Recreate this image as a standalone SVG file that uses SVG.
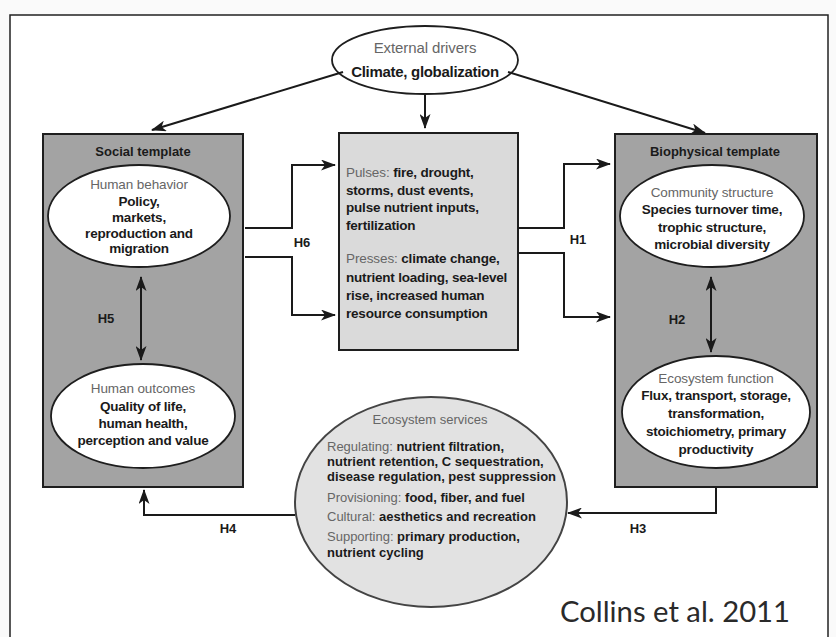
<svg xmlns="http://www.w3.org/2000/svg" width="836" height="637" viewBox="0 0 836 637">
<defs>
<marker id="ah" markerUnits="userSpaceOnUse" markerWidth="15" markerHeight="11" refX="14" refY="5.5" orient="auto-start-reverse">
<path d="M0,0 L15,5.5 L0,11 L4,5.5 z" fill="#1a1a1a"/>
</marker>
<style>
.t{font-family:"Liberation Sans",Arial,sans-serif;font-size:13.5px;letter-spacing:-0.2px;font-weight:bold;fill:#1a1a1a;}
.g{font-family:"Liberation Sans",Arial,sans-serif;font-size:13.5px;letter-spacing:-0.1px;font-weight:normal;fill:#666666;}
.s{font-size:13px;letter-spacing:0;}
.tpl{fill:#a3a3a3;stroke:#1e1e1e;stroke-width:2;}
.ell{fill:#ffffff;stroke:#1e1e1e;stroke-width:1.8;}
.c{stroke:#1a1a1a;stroke-width:2;fill:none;marker-end:url(#ah);}
.lab{font-family:"Liberation Sans",Arial,sans-serif;font-size:13px;font-weight:bold;fill:#1a1a1a;text-anchor:middle;}
</style>
</defs>
<rect x="0" y="0" width="836" height="637" fill="#fafafa"/>
<rect x="10" y="15" width="818" height="640" fill="#ffffff" stroke="#222" stroke-width="1.5"/>

<g id="external-drivers">
<ellipse cx="425" cy="60" rx="93" ry="34" class="ell" stroke-width="2.2"/>
<text x="425" y="53" class="g" style="font-size:15px" text-anchor="middle">External drivers</text>
<text x="425" y="77" class="t" style="font-size:15px;letter-spacing:-0.3px" text-anchor="middle">Climate, globalization</text>
</g>

<g id="social-template">
<rect x="43" y="134" width="200" height="353" class="tpl"/>
<text x="143" y="156" class="t s" text-anchor="middle">Social template</text>
</g>
<g id="human-behavior">
<ellipse cx="139" cy="216" rx="91" ry="51" class="ell"/>
<text x="139" y="189" class="g" text-anchor="middle">Human behavior</text>
<text class="t" text-anchor="middle"><tspan x="139" y="206">Policy,</tspan><tspan x="139" y="222">markets,</tspan><tspan x="139" y="238">reproduction and</tspan><tspan x="139" y="253">migration</tspan></text>
</g>
<g id="human-outcomes">
<ellipse cx="143" cy="416" rx="92" ry="52" class="ell"/>
<text x="143" y="393" class="g" text-anchor="middle">Human outcomes</text>
<text class="t" text-anchor="middle"><tspan x="143" y="411">Quality of life,</tspan><tspan x="143" y="428">human health,</tspan><tspan x="143" y="445">perception and value</tspan></text>
</g>

<g id="pulses-presses">
<rect x="339" y="133" width="179" height="217" fill="#dadada" stroke="#1e1e1e" stroke-width="2"/>
<text class="t"><tspan x="346" y="177"><tspan class="g">Pulses:</tspan> fire, drought,</tspan><tspan x="346" y="195">storms, dust events,</tspan><tspan x="346" y="212">pulse nutrient inputs,</tspan><tspan x="346" y="230">fertilization</tspan></text>
<text class="t"><tspan x="346" y="263"><tspan class="g">Presses:</tspan> climate change,</tspan><tspan x="346" y="282">nutrient loading, sea-level</tspan><tspan x="346" y="300">rise, increased human</tspan><tspan x="346" y="318">resource consumption</tspan></text>
</g>

<g id="biophysical-template">
<rect x="615" y="134" width="202" height="353" class="tpl"/>
<text x="715" y="156" class="t s" text-anchor="middle">Biophysical template</text>
</g>
<g id="community-structure">
<ellipse cx="712" cy="216" rx="92" ry="51" class="ell"/>
<text x="712" y="197" class="g" text-anchor="middle">Community structure</text>
<text class="t" text-anchor="middle"><tspan x="712" y="214">Species turnover time,</tspan><tspan x="712" y="232">trophic structure,</tspan><tspan x="712" y="249">microbial diversity</tspan></text>
</g>
<g id="ecosystem-function">
<ellipse cx="716" cy="412" rx="94" ry="56" class="ell"/>
<text x="716" y="383" class="g" text-anchor="middle">Ecosystem function</text>
<text class="t" text-anchor="middle"><tspan x="716" y="400">Flux, transport, storage,</tspan><tspan x="716" y="418">transformation,</tspan><tspan x="716" y="436">stoichiometry, primary</tspan><tspan x="716" y="454">productivity</tspan></text>
</g>

<g id="ecosystem-services">
<ellipse cx="431" cy="502" rx="136" ry="105" fill="#e2e2e2" stroke="#444" stroke-width="2"/>
<text x="430" y="424" class="g s" text-anchor="middle">Ecosystem services</text>
<text class="t s"><tspan x="327" y="451"><tspan class="g s">Regulating:</tspan> nutrient filtration,</tspan><tspan x="327" y="466">nutrient retention, C sequestration,</tspan><tspan x="327" y="481">disease regulation, pest suppression</tspan><tspan x="327" y="502"><tspan class="g s">Provisioning:</tspan> food, fiber, and fuel</tspan><tspan x="327" y="521"><tspan class="g s">Cultural:</tspan> aesthetics and recreation</tspan><tspan x="327" y="541"><tspan class="g s">Supporting:</tspan> primary production,</tspan><tspan x="327" y="557">nutrient cycling</tspan></text>
</g>

<g id="connectors">
<line x1="343" y1="72" x2="152" y2="130" class="c"/>
<line x1="425" y1="95" x2="425" y2="128" class="c"/>
<line x1="508" y1="72" x2="705" y2="133" class="c"/>
<polyline points="245,228 292,228 292,165 335,165" class="c"/>
<polyline points="245,257 292,257 292,315 335,315" class="c"/>
<polyline points="518,228 564,228 564,164 610,164" class="c"/>
<polyline points="518,253 564,253 564,317 610,317" class="c"/>
<line x1="141" y1="277" x2="141" y2="360" class="c" marker-start="url(#ah)"/>
<line x1="711" y1="277" x2="711" y2="352" class="c" marker-start="url(#ah)"/>
<polyline points="716,488 716,513 568,513" class="c"/>
<polyline points="295,515 144,515 144,490" class="c"/>
<text x="302" y="247" class="lab">H6</text>
<text x="578" y="244" class="lab">H1</text>
<text x="106" y="323" class="lab">H5</text>
<text x="677" y="324" class="lab">H2</text>
<text x="638" y="533" class="lab">H3</text>
<text x="228" y="533" class="lab">H4</text>
</g>

<text x="560" y="622" font-family="Lato,'Open Sans','Liberation Sans',sans-serif" font-size="28" fill="#2a2a2a" textLength="230" lengthAdjust="spacingAndGlyphs">Collins et al. 2011</text>
</svg>
